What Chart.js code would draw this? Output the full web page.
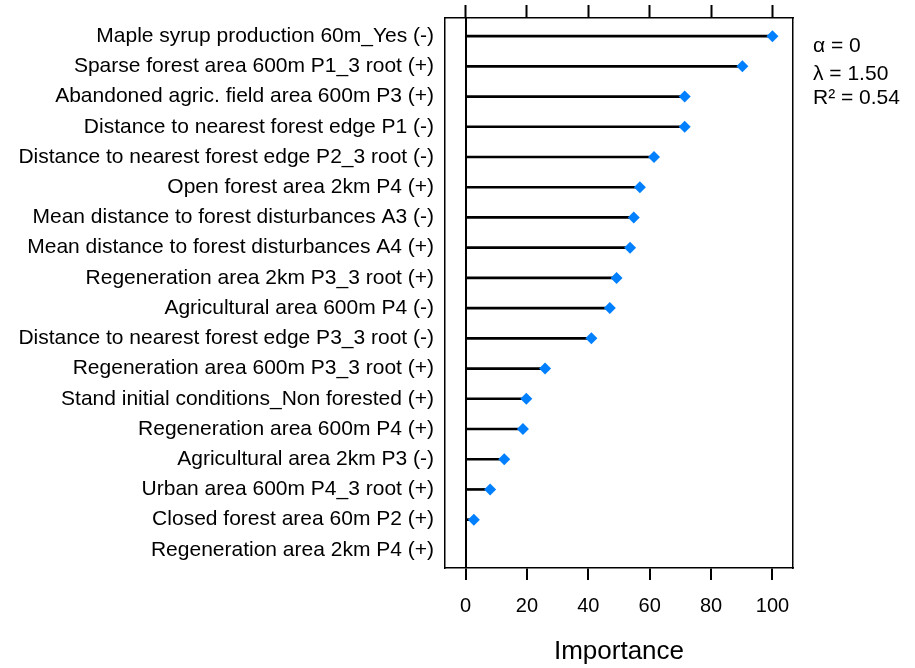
<!DOCTYPE html>
<html>
<head>
<meta charset="utf-8">
<script src="https://cdn.jsdelivr.net/npm/chart.js@4/dist/chart.umd.min.js"></script>
<style>
  html, body { margin: 0; padding: 0; background: #fff; }
  #wrap { width: 915px; height: 668px; position: relative; }
</style>
</head>
<body>
<div id="wrap"><canvas id="chart"></canvas></div>
<script>
// variables, top to bottom as in the plot
const features = [
  "Maple syrup production 60m_Yes (-)",
  "Sparse forest area 600m P1_3 root (+)",
  "Abandoned agric. field area 600m P3 (+)",
  "Distance to nearest forest edge P1 (-)",
  "Distance to nearest forest edge P2_3 root (-)",
  "Open forest area 2km P4 (+)",
  "Mean distance to forest disturbances A3 (-)",
  "Mean distance to forest disturbances A4 (+)",
  "Regeneration area 2km P3_3 root (+)",
  "Agricultural area 600m P4 (-)",
  "Distance to nearest forest edge P3_3 root (-)",
  "Regeneration area 600m P3_3 root (+)",
  "Stand initial conditions_Non forested (+)",
  "Regeneration area 600m P4 (+)",
  "Agricultural area 2km P3 (-)",
  "Urban area 600m P4_3 root (+)",
  "Closed forest area 60m P2 (+)",
  "Regeneration area 2km P4 (+)"
];
const importance = [100, 90.2, 71.4, 71.4, 61.4, 56.8, 54.8, 53.6, 49.2, 47.0, 41.0, 25.9, 19.8, 18.7, 12.6, 8.0, 2.7, 0];
const xTicks = [0, 20, 40, 60, 80, 100];
const fitStats = ["α = 0", "λ = 1.50", "R² = 0.54"];

const FONT = '"Liberation Sans", Arial, sans-serif';
const blue = "#0080ff";

const points = importance.map((v, i) => ({ x: v, y: i + 1 }));

// text block right of the panel
const statsText = {
  id: "statsText",
  afterDraw(chart) {
    const { ctx, chartArea } = chart;
    const baselines = [52, 79.5, 103.5];
    ctx.save();
    ctx.font = "21px " + FONT;
    ctx.fillStyle = "#000";
    ctx.textBaseline = "alphabetic";
    fitStats.forEach((s, i) => ctx.fillText(s, chartArea.right + 20, baselines[i]));
    ctx.restore();
  }
};

const setTicks = (vals) => (scale) => { scale.ticks = vals.map(v => ({ value: v })); };

new Chart(document.getElementById("chart"), {
  type: "bar",
  data: {
    datasets: [
      {
        label: "stem",
        data: points,
        backgroundColor: "#000",
        borderWidth: 0,
        barThickness: 2,
        order: 2
      },
      {
        type: "line",
        label: "importance",
        data: points,
        showLine: false,
        pointStyle: "rectRot",
        pointRadius: (c) => (c.raw && c.raw.x === 0 ? 0 : 6),
        backgroundColor: blue,
        borderColor: blue,
        pointBorderWidth: 0,
        order: 1
      }
    ]
  },
  options: {
    indexAxis: "y",
    responsive: true,
    maintainAspectRatio: false,
    animation: false,
    layout: { padding: { top: 5, right: 121, bottom: 0, left: 10 } },
    plugins: { legend: { display: false }, tooltip: { enabled: false } },
    scales: {
      x: {
        type: "linear",
        position: "bottom",
        min: -6.7,
        max: 106.7,
        afterBuildTicks: setTicks(xTicks),
        afterFit: (s) => { s.height = 100; s.paddingLeft = 0; s.paddingRight = 0; },
        grid: {
          color: (c) => (c.tick && c.tick.value === 0 ? "#000" : "rgba(0,0,0,0)"),
          lineWidth: 2,
          tickColor: "#000",
          tickWidth: 2,
          tickLength: 12
        },
        border: { display: true, color: "#000", width: 1.5 },
        ticks: { font: { family: FONT, size: 20 }, color: "#000", padding: 14 },
        title: {
          display: true,
          text: "Importance",
          font: { family: FONT, size: 26, lineHeight: 1.1 },
          color: "#000",
          padding: { top: 0, bottom: 2 }
        }
      },
      x2: {
        type: "linear",
        position: "top",
        min: -6.7,
        max: 106.7,
        afterBuildTicks: setTicks(xTicks),
        afterFit: (s) => { s.height = 13; },
        grid: { drawOnChartArea: false, tickColor: "#000", tickWidth: 2, tickLength: 13 },
        border: { display: true, color: "#000", width: 1.5 },
        ticks: { display: false }
      },
      y: {
        type: "linear",
        position: "left",
        reverse: true,
        offset: false,
        min: 0.4,
        max: 18.6,
        afterBuildTicks: setTicks(features.map((_, i) => i + 1)),
        afterFit: (s) => { s.width = 435; s.paddingTop = 0; s.paddingBottom = 0; },
        grid: { display: false, drawTicks: false, offset: false },
        border: { display: true, color: "#000", width: 1.5 },
        ticks: {
          autoSkip: false,
          font: { family: FONT, size: 21 },
          color: "#000",
          padding: 11,
          callback: (v) => features[v - 1] || ""
        }
      },
      y2: {
        type: "linear",
        position: "right",
        min: 0,
        max: 1,
        afterFit: (s) => { s.width = 1; s.paddingTop = 0; s.paddingBottom = 0; },
        grid: { display: false, drawTicks: false },
        border: { display: true, color: "#000", width: 1.5 },
        ticks: { display: false }
      }
    }
  },
  plugins: [statsText]
});
</script>
</body>
</html>
